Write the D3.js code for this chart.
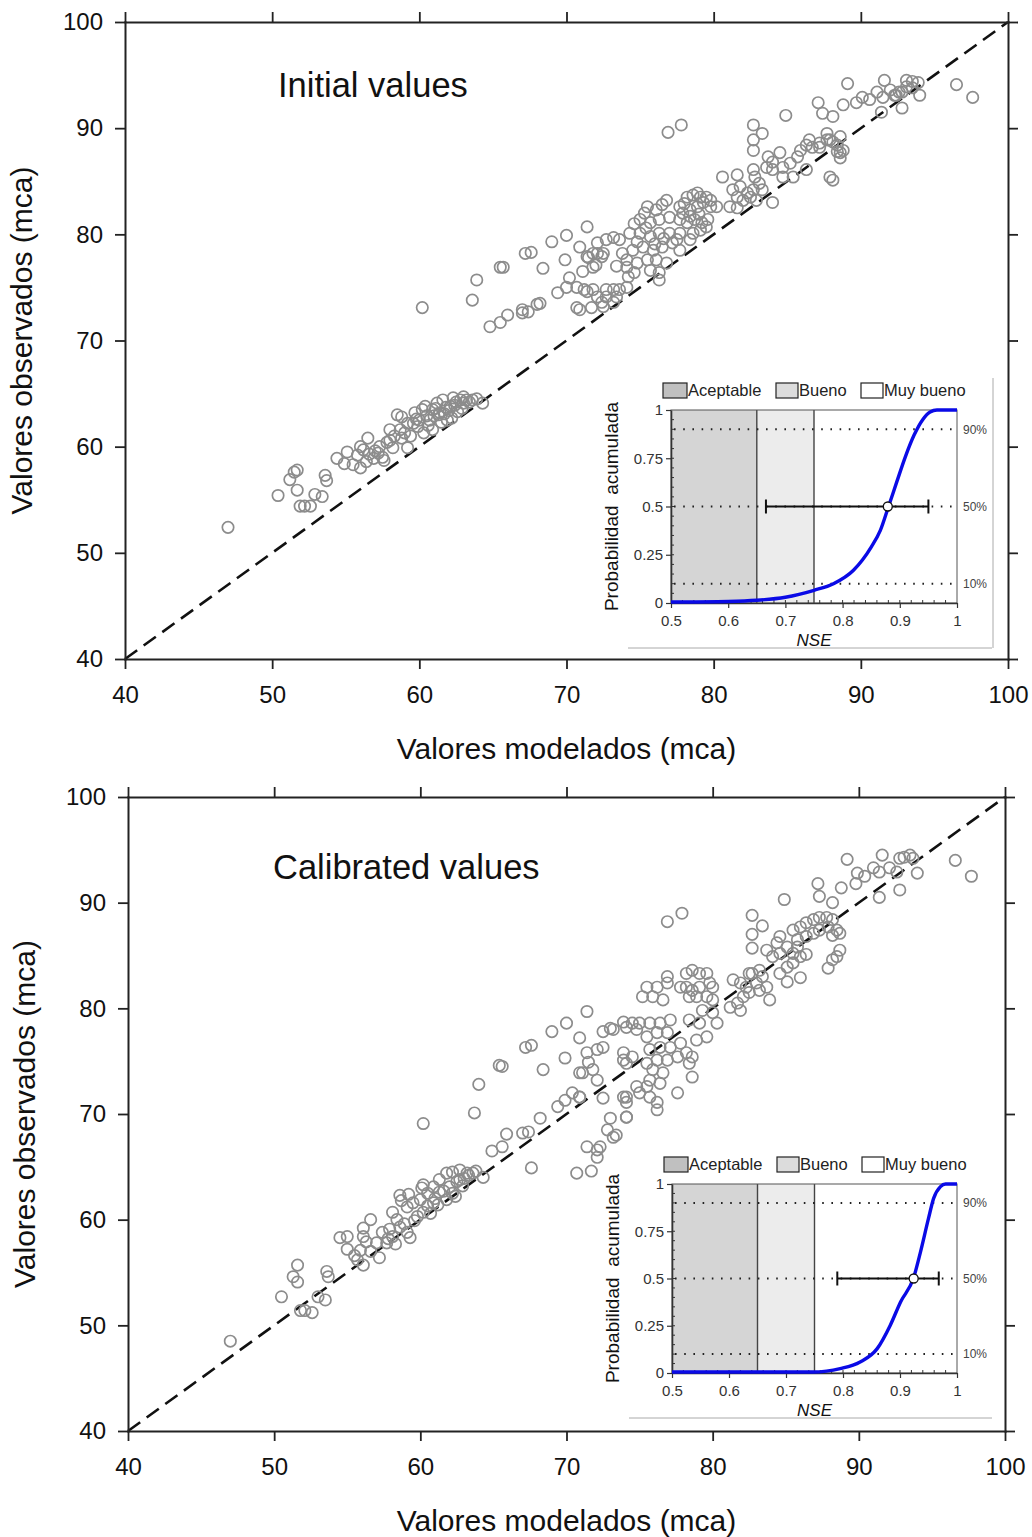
<!DOCTYPE html>
<html>
<head>
<meta charset="utf-8">
<script src="https://cdn.jsdelivr.net/npm/d3@7"></script>
<style>
body { margin: 0; background: #fff; }
</style>
</head>
<body>
<div id="chart"></div>
<script>
// ticks and labels
var mainTicks = [40, 50, 60, 70, 80, 90, 100];
var insetXTicks = [0.5, 0.6, 0.7, 0.8, 0.9, 1];
var insetYTicks = [0, 0.25, 0.5, 0.75, 1];
var quantileLines = [0.1, 0.5, 0.9];
var quantileLabels = ["10%", "50%", "90%"];
var classBreaks = [0.5, 0.65, 0.75, 1];
var classNames = ["Aceptable", "Bueno", "Muy bueno"];
var classFills = ["#d5d5d5", "#ececec", "#ffffff"];
var legendFills = ["#c0c0c0", "#dcdcdc", "#ffffff"];

// scatter: [modelado, observado]
var initialPoints = [
 [47.0,52.4],[50.4,55.4],[51.2,56.9],[51.5,57.6],[51.7,55.9],[51.9,54.4],[52.2,54.4],[52.6,54.4],[52.9,55.5],[53.4,55.3],[53.6,57.3],[53.7,56.8],[51.7,57.8],
 [54.4,58.9],[55.1,59.5],[56.0,60.0],[56.5,60.8],[56.2,59.7],[55.8,59.2],[56.9,58.9],[57.5,59.0],[57.3,60.0],[57.8,60.4],[58.2,59.9],[58.0,60.6],[58.5,63.0],[58.0,61.6],[58.7,61.6],[59.2,62.2],[59.6,62.2],[59.2,59.9],
 [60.0,62.5],[60.2,63.5],[60.7,62.5],[60.9,63.5],[61.2,64.1],[61.6,64.4],[61.4,63.2],[61.9,62.5],[62.1,63.8],[62.3,64.6],[62.8,64.4],[63.0,64.7],[63.2,64.4],[63.6,64.4],[64.3,64.1],
 [55.5,58.3],[56.0,58.0],[56.6,59.3],[57.0,59.6],[57.6,58.7],[58.3,61.0],[58.8,60.8],[59.4,61.0],[59.9,61.9],[60.3,61.3],[60.6,62.0],[61.0,62.9],[61.3,63.0],[61.7,63.1],[62.0,63.4],[62.4,63.9],[62.6,63.3],[63.0,64.1],[63.4,64.2],[60.9,61.6],[61.5,62.3],[62.2,62.7],[59.7,63.2],[60.4,63.8],[63.9,64.5],[62.9,63.6],[58.8,62.8],
 [59.0,61.3],[59.8,62.6],[60.5,62.9],[61.1,63.6],[61.8,63.7],[62.5,64.2],[57.2,59.4],[56.4,58.6],[54.9,58.4],
 [60.2,73.1],[63.6,73.8],[63.9,75.7],[64.8,71.3],[65.5,71.7],[66.0,72.4],[65.5,76.9],[65.7,76.9],[67.0,72.9],[67.4,72.7],[68.2,73.5],[67.2,78.2],[67.6,78.3],[68.4,76.8],[69.0,79.3],[69.9,77.6],[70.0,79.9],[71.4,80.7],[69.4,74.5],[70.0,75.0],[70.7,75.0],[71.4,74.6],[70.2,75.9],[70.7,73.1],[71.7,73.1],[70.9,78.8],[71.4,77.9],[71.1,76.5],[67.0,72.6],[68.0,73.4],
 [72.1,74.1],[72.4,73.6],[71.5,77.8],[72.0,77.1],[72.1,78.2],[72.4,77.9],[72.7,79.5],[73.2,79.7],[73.6,79.5],[72.7,74.1],[73.2,74.8],[73.6,74.8],[74.1,75.0],[74.2,76.0],[74.1,76.9],
 [72.1,79.2],[71.8,78.2],[72.5,78.2],[71.8,76.9],[71.2,74.8],[71.8,74.8],[72.7,74.8],[70.9,72.9],[72.5,73.2],[73.2,73.6],[73.4,74.1],
 [73.8,78.2],[74.5,78.5],[75.2,78.8],[75.9,78.5],[76.5,78.8],[77.2,79.2],[74.1,77.6],[74.8,77.3],[75.5,77.6],[76.1,77.6],[76.8,77.3],[75.7,76.6],[76.3,76.4],[76.3,75.7],[77.7,78.5],[77.5,79.5],[75.5,82.6],[76.1,82.3],[76.8,83.2],[75.0,81.4],[75.7,81.1],[76.3,81.4],[77.0,81.6],[74.3,80.1],[75.0,80.1],[75.7,79.8],[76.3,80.1],[77.0,80.1],[77.7,80.1],
 [74.8,79.3],[75.4,80.6],[76.0,79.1],[76.6,79.6],[74.6,81.0],[75.3,82.0],[76.5,82.8],[73.4,77.0],[74.6,76.4],
 [77.7,82.6],[78.2,83.5],[78.6,83.7],[79.1,83.5],[79.5,83.5],[77.9,82.0],[78.4,82.3],[78.9,82.6],[79.3,83.0],[79.8,82.6],[80.2,82.6],[77.7,81.4],[78.2,81.1],[78.7,81.4],[79.2,81.1],[79.6,81.4],[78.6,80.1],[79.1,80.4],[79.5,80.7],[78.4,79.5],
 [78.0,82.9],[78.9,83.9],[79.8,83.2],[78.4,81.7],[79.0,81.9],
 [81.3,84.2],[81.8,84.5],[82.3,83.9],[82.7,84.2],[83.1,84.8],[83.3,84.2],[81.6,83.5],[82.0,83.2],[82.5,83.5],[82.9,83.2],[81.1,82.6],[81.6,82.5],
 [80.6,85.4],[81.6,85.6],[82.7,86.1],[82.8,85.4],[84.0,83.0],
 [83.7,87.3],[84.0,86.8],[84.5,87.7],[84.7,86.3],[85.2,86.7],[85.7,87.3],[85.9,87.9],[86.3,88.4],[86.7,88.2],[87.2,88.6],[87.7,88.9],[88.1,88.7],[88.4,88.4],[87.7,89.5],[88.4,87.8],[88.8,87.9],[88.6,87.2],[86.3,86.1],[85.4,85.4],[84.7,85.4],[87.9,85.4],[88.1,85.1],[83.6,86.3],[84.0,86.1],
 [86.5,88.9],[87.2,88.2],[87.9,88.9],[88.6,89.2],[88.6,87.7],
 [76.9,89.6],[77.8,90.3],[82.7,90.3],[83.3,89.5],[82.7,88.9],[82.7,87.9],[84.9,91.2],[87.1,92.4],[87.4,91.4],[88.1,91.1],[88.8,92.2],[89.1,94.2],
 [89.7,92.4],[90.1,92.9],[90.6,92.7],[91.1,93.4],[91.5,92.9],[92.0,93.6],[92.4,93.1],[92.8,93.4],[93.1,93.9],[93.5,93.8],[94.0,93.1],[92.8,91.9],[96.5,94.1],[97.6,92.9],
 [91.6,94.5],[93.1,94.5],[93.5,94.4],[93.9,94.3],[91.4,91.5],[92.6,93.4],[92.3,93.1]
];

var calibratedPoints = [
 [47.0,48.5],[50.5,52.7],[51.6,55.7],[51.3,54.6],[51.6,54.1],[51.8,51.4],[52.1,51.4],[52.6,51.2],[53.0,52.7],[53.5,52.4],[53.6,55.1],[53.7,54.6],
 [54.5,58.3],[55.0,58.4],[56.1,59.2],[56.6,60.0],[56.1,58.4],[55.9,57.1],[55.7,56.2],[56.1,55.7],[56.3,57.9],
 [57.2,56.4],[57.4,58.8],[57.9,59.1],[58.1,58.4],[58.6,59.3],[57.7,57.8],[59.1,58.8],[59.3,58.3],[58.1,60.7],[58.4,60.0],[58.6,62.3],[59.1,61.2],[59.5,61.6],[60.0,61.9],[60.5,62.5],[60.2,63.3],[60.9,63.1],[61.3,63.8],[61.8,64.4],[62.2,64.5],[62.7,64.7],[63.2,64.4],[63.6,64.4],[64.3,64.0],[60.9,61.6],[61.8,61.9],[62.2,62.5],[60.7,60.6],[59.8,60.3],[61.3,62.6],[62.7,63.8],
 [55.0,57.2],[55.5,56.6],[56.6,57.0],[57.0,57.8],[57.8,58.2],[58.3,57.7],[58.9,59.6],[59.6,59.9],[60.2,60.7],[60.5,61.3],[61.0,62.0],[61.6,62.7],[62.0,63.1],[62.5,63.6],[63.0,63.9],[63.3,64.2],[61.2,61.4],[62.4,62.2],[59.2,62.4],[60.1,63.0],[63.8,64.6],[62.9,63.2],[58.7,61.8],
 [60.2,69.1],[63.7,70.1],[64.0,72.8],[64.9,66.5],[65.6,66.9],[65.9,68.1],[67.6,64.9],[65.4,74.6],[65.6,74.5],[67.2,76.3],[67.6,76.5],[68.4,74.2],[69.0,77.8],[70.0,78.6],[71.4,79.7],[67.0,68.2],[67.4,68.3],[68.2,69.6],[69.4,70.7],[69.9,71.3],[70.4,72.0],[70.9,71.6],[69.9,75.3],[70.9,73.9],[71.4,75.8],[71.5,74.9],[70.7,64.4],[71.7,64.6],[71.4,66.9],[72.1,66.6],
 [72.5,77.8],[73.0,78.1],[73.2,78.0],[73.9,78.7],[70.9,77.2],[72.1,76.1],[72.5,76.3],[71.1,73.9],[71.8,74.2],[72.1,73.2],[73.9,75.1],[74.1,74.8],[70.9,71.6],[72.5,71.5],[73.9,71.6],[74.1,71.1],[73.0,69.6],[74.1,69.7],[72.8,68.5],[73.2,67.8],[73.4,68.0],[72.3,66.9],[72.1,65.9],
 [75.5,82.0],[76.2,82.0],[76.9,83.0],[76.9,82.4],[75.2,81.1],[75.9,81.1],[76.6,80.8],[74.5,78.6],[75.0,78.6],[75.7,78.6],[76.4,78.6],[77.1,78.9],[74.1,78.2],[74.8,78.0],[75.5,77.3],[76.2,77.7],[76.9,77.7],[73.9,75.8],[74.5,75.4],[75.7,76.1],[76.4,76.3],[77.1,76.3],[77.8,76.7],[75.5,74.8],[76.2,75.1],[76.9,75.1],[77.6,75.4],[75.9,74.2],[76.6,73.9],[75.7,73.2],[76.4,72.9],[74.8,72.6],[75.5,72.6],[75.0,72.0],[75.7,71.6],[76.2,71.1],[76.2,70.4],[74.1,71.6],[74.1,69.7],[78.2,75.8],[78.4,74.8],[78.6,75.4],
 [78.6,73.5],[77.6,72.0],
 [78.2,83.3],[78.6,83.6],[79.1,83.3],[79.6,83.3],[77.8,82.0],[78.2,82.0],[78.6,81.7],[79.1,82.0],[79.8,82.4],[80.0,82.0],[78.4,81.1],[78.9,81.1],[79.6,81.1],[80.0,80.8],[79.3,79.8],[80.0,79.6],[80.3,78.6],[79.1,78.6],[79.6,77.3],[78.9,77.0],[78.4,78.9],
 [81.4,82.7],[81.9,82.4],[82.3,82.0],[82.7,83.3],[83.2,83.6],[83.4,83.0],[83.0,82.4],[82.5,81.5],[82.1,81.1],[81.7,80.5],[81.2,80.1],[81.9,79.8],[83.9,80.8],[83.2,81.7],[83.7,82.0],[82.5,83.3],
 [83.7,85.5],[84.4,86.2],[84.6,86.8],[85.1,85.8],[85.5,85.2],[85.5,84.3],[85.1,83.9],[86.0,84.9],[86.4,85.1],[85.8,85.8],[84.6,85.2],[84.1,84.9],[85.1,82.5],[86.0,82.9],[84.6,83.3],
 [85.5,87.4],[86.0,87.7],[86.4,88.1],[86.9,88.4],[87.3,88.6],[87.8,88.6],[88.2,88.4],[88.5,87.4],[87.9,87.7],[87.3,87.4],[86.9,87.1],[86.4,86.8],[85.8,86.5],[88.2,86.9],[88.7,87.1],
 [88.7,85.5],[88.5,84.9],[88.2,84.6],[87.9,83.8],
 [76.9,88.2],[77.9,89.0],[82.7,88.8],[83.4,87.8],[82.7,87.0],[82.7,85.7],[84.9,90.3],[87.2,91.8],[87.3,90.6],[88.2,90.0],[89.2,94.1],[88.8,91.4],
 [89.9,92.8],[89.8,91.8],[90.4,92.5],[91.0,93.3],[91.4,92.9],[91.6,94.5],[92.1,93.3],[92.6,92.9],[92.8,94.2],[93.1,94.3],[93.5,94.5],[93.7,94.2],[94.0,92.8],[92.8,91.2],[91.4,90.5],[96.6,94.0],[97.7,92.5]
];

// cumulative probability of NSE
var initialCdfNse  = [0.5, 0.6, 0.65, 0.7, 0.75, 0.784, 0.819, 0.85, 0.866, 0.88, 0.895, 0.91, 0.925, 0.94, 0.953, 0.965, 1.0];
var initialCdfProb = [0.005, 0.008, 0.014, 0.03, 0.066, 0.1, 0.17, 0.29, 0.376, 0.497, 0.63, 0.76, 0.87, 0.95, 0.99, 1, 1];
var initialRange = [0.666, 0.879, 0.95]; // 10%, 50%, 90%

var calibratedCdfNse  = [0.5, 0.6, 0.7, 0.748, 0.795, 0.83, 0.86, 0.883, 0.901, 0.924, 0.936, 0.95, 0.959, 0.971, 0.98, 1.0];
var calibratedCdfProb = [0.005, 0.005, 0.005, 0.005, 0.023, 0.058, 0.129, 0.253, 0.376, 0.505, 0.641, 0.818, 0.924, 0.986, 1, 1];
var calibratedRange = [0.79, 0.924, 0.968];

var svg = d3.select("#chart").append("svg")
    .attr("width", 1032).attr("height", 1537)
    .style("font-family", "'Liberation Sans', Arial, sans-serif");

var panels = [
    { title: "Initial values", titleSize: 34.5, titleX: 278, titleY: 97,
      points: initialPoints, cdfX: initialCdfNse, cdfY: initialCdfProb, range: initialRange,
      left: 125, right: 1008, top: 22, bottom: 659,
      inset: { left: 671, right: 957, top: 410, bottom: 603, frameRight: true } },
    { title: "Calibrated values", titleSize: 34.5, titleX: 273, titleY: 879,
      points: calibratedPoints, cdfX: calibratedCdfNse, cdfY: calibratedCdfProb, range: calibratedRange,
      left: 128, right: 1005, top: 797, bottom: 1431,
      inset: { left: 672, right: 957, top: 1184, bottom: 1373, frameRight: false } }
];

panels.forEach(function (p) { dibujarPanel(p); });

function dibujarPanel(p) {
    var x = d3.scaleLinear().domain([40, 100]).range([p.left, p.right]);
    var y = d3.scaleLinear().domain([40, 100]).range([p.bottom, p.top]);
    var g = svg.append("g");

    // 1:1 line
    g.append("line")
        .attr("x1", x(40)).attr("y1", y(40)).attr("x2", x(100)).attr("y2", y(100))
        .attr("stroke", "#111").attr("stroke-width", 2.6).attr("stroke-dasharray", "15,8");

    g.selectAll(".pt")
        .data(p.points)
        .enter().append("circle")
        .attr("class", "pt")
        .attr("cx", function (d) { return x(d[0]); })
        .attr("cy", function (d) { return y(d[1]); })
        .attr("r", 5.7)
        .attr("fill", "none")
        .attr("stroke", "#8c8c8c")
        .attr("stroke-width", 1.7);

    // frame with outward ticks on all sides
    var ax = [
        { a: d3.axisBottom(x).tickPadding(17), t: "translate(0," + p.bottom + ")", lab: true },
        { a: d3.axisLeft(y).tickPadding(12), t: "translate(" + p.left + ",0)", lab: true },
        { a: d3.axisTop(x), t: "translate(0," + p.top + ")", lab: false },
        { a: d3.axisRight(y), t: "translate(" + p.right + ",0)", lab: false }
    ];
    ax.forEach(function (o) {
        o.a.tickValues(mainTicks).tickSize(10).tickSizeOuter(0);
        if (!o.lab) o.a.tickFormat("");
        var ga = g.append("g").attr("transform", o.t).call(o.a);
        ga.select(".domain").attr("stroke", "#222").attr("stroke-width", 2).attr("stroke-linecap", "square");
        ga.selectAll(".tick line").attr("stroke", "#222").attr("stroke-width", 1.8);
        ga.selectAll(".tick text").attr("fill", "#111")
            .style("font-size", "24px").style("font-family", "'Liberation Sans', Arial, sans-serif");
    });

    g.append("text")
        .attr("x", (p.left + p.right) / 2).attr("y", p.bottom + 100)
        .attr("text-anchor", "middle").style("font-size", "30px").attr("fill", "#111")
        .text("Valores modelados (mca)");
    g.append("text")
        .attr("transform", "translate(" + (p.left - 93) + "," + ((p.top + p.bottom) / 2) + ") rotate(-90)")
        .attr("text-anchor", "middle").style("font-size", "30px").attr("fill", "#111")
        .text("Valores observados (mca)");
    g.append("text")
        .attr("x", p.titleX).attr("y", p.titleY)
        .style("font-size", p.titleSize + "px").attr("fill", "#111")
        .text(p.title);

    dibujarInset(g, p);
}

function dibujarInset(g, p) {
    var b = p.inset;
    var x = d3.scaleLinear().domain([0.5, 1]).range([b.left, b.right]);
    var y = d3.scaleLinear().domain([0, 1]).range([b.bottom, b.top]);
    var gi = g.append("g");

    gi.append("rect").attr("x", b.left - 45).attr("y", b.top - 32)
        .attr("width", b.right - b.left + 80).attr("height", b.bottom - b.top + 77).attr("fill", "#fff");

    // class bands
    gi.selectAll(".band")
        .data(classNames)
        .enter().append("rect")
        .attr("x", function (d, i) { return x(classBreaks[i]); })
        .attr("y", y(1))
        .attr("width", function (d, i) { return x(classBreaks[i + 1]) - x(classBreaks[i]); })
        .attr("height", y(0) - y(1))
        .attr("fill", function (d, i) { return classFills[i]; });
    gi.selectAll(".brk")
        .data(classBreaks.slice(1, 3))
        .enter().append("line")
        .attr("x1", function (d) { return x(d); }).attr("x2", function (d) { return x(d); })
        .attr("y1", y(1)).attr("y2", y(0))
        .attr("stroke", "#444").attr("stroke-width", 1.4);

    gi.append("rect").attr("x", b.left).attr("y", b.top)
        .attr("width", b.right - b.left).attr("height", b.bottom - b.top)
        .attr("fill", "none").attr("stroke", "#555").attr("stroke-width", 1);

    // dotted quantile lines
    gi.selectAll(".q")
        .data(quantileLines)
        .enter().append("line")
        .attr("x1", x(0.5) + 3).attr("x2", x(1) - 2)
        .attr("y1", function (d) { return y(d); }).attr("y2", function (d) { return y(d); })
        .attr("stroke", "#222").attr("stroke-width", 2).attr("stroke-dasharray", "1.6,7.6");
    gi.selectAll(".ql")
        .data(quantileLines)
        .enter().append("text")
        .attr("x", b.right + 6).attr("y", function (d) { return y(d); }).attr("dy", "0.35em")
        .style("font-size", "12px").attr("fill", "#444")
        .text(function (d, i) { return quantileLabels[i]; });

    // axes
    var fmt = function (d) { return String(d); };
    var axY = gi.append("g").attr("transform", "translate(" + b.left + ",0)")
        .call(d3.axisLeft(y).tickValues(insetYTicks).tickSize(5).tickSizeOuter(0).tickPadding(3).tickFormat(fmt));
    var axX = gi.append("g").attr("transform", "translate(0," + b.bottom + ")")
        .call(d3.axisBottom(x).tickValues(insetXTicks).tickSize(5).tickSizeOuter(0).tickPadding(7).tickFormat(fmt));
    [axX, axY].forEach(function (a) {
        a.select(".domain").attr("stroke", "#333").attr("stroke-width", 1.6);
        a.selectAll(".tick line").attr("stroke", "#333").attr("stroke-width", 1.2);
        a.selectAll(".tick text").attr("fill", "#333")
            .style("font-size", "15px").style("font-family", "'Liberation Sans', Arial, sans-serif");
    });
    // minor ticks
    gi.selectAll(".my")
        .data(d3.range(0.05, 1, 0.05))
        .enter().append("line")
        .attr("x1", b.left).attr("x2", b.left + 3)
        .attr("y1", function (d) { return y(d); }).attr("y2", function (d) { return y(d); })
        .attr("stroke", "#333").attr("stroke-width", 1);
    gi.selectAll(".mx")
        .data(d3.range(0.52, 1, 0.02))
        .enter().append("line")
        .attr("y1", b.bottom).attr("y2", b.bottom - 3)
        .attr("x1", function (d) { return x(d); }).attr("x2", function (d) { return x(d); })
        .attr("stroke", "#333").attr("stroke-width", 1);

    // CDF
    var linea = d3.line()
        .x(function (d) { return x(d[0]); })
        .y(function (d) { return y(d[1]); })
        .curve(d3.curveMonotoneX);
    gi.append("path")
        .datum(d3.zip(p.cdfX, p.cdfY))
        .attr("d", linea)
        .attr("fill", "none").attr("stroke", "#0a0ae6").attr("stroke-width", 3.4);

    // 10-90% interval with median
    gi.append("line")
        .attr("x1", x(p.range[0])).attr("x2", x(p.range[2]))
        .attr("y1", y(0.5)).attr("y2", y(0.5))
        .attr("stroke", "#111").attr("stroke-width", 2);
    gi.selectAll(".cap")
        .data([p.range[0], p.range[2]])
        .enter().append("line")
        .attr("x1", function (d) { return x(d); }).attr("x2", function (d) { return x(d); })
        .attr("y1", y(0.5) - 7).attr("y2", y(0.5) + 7)
        .attr("stroke", "#111").attr("stroke-width", 2);
    gi.append("circle")
        .attr("cx", x(p.range[1])).attr("cy", y(0.5)).attr("r", 4.5)
        .attr("fill", "#fff").attr("stroke", "#111").attr("stroke-width", 1.3);

    // legend
    var offs = [-8, 105, 190];
    var lg = gi.selectAll(".lg")
        .data(classNames)
        .enter().append("g")
        .attr("transform", function (d, i) { return "translate(" + (b.left + offs[i]) + "," + (b.top - 27) + ")"; });
    lg.append("rect").attr("width", function (d, i) { return i === 0 ? 24 : 22; }).attr("height", 15)
        .attr("fill", function (d, i) { return legendFills[i]; })
        .attr("stroke", "#222").attr("stroke-width", 1.2);
    lg.append("text")
        .attr("x", function (d, i) { return i === 0 ? 25 : 23; }).attr("y", 13)
        .style("font-size", "16.5px").attr("fill", "#222")
        .text(function (d) { return d; });

    gi.append("text")
        .attr("transform", "translate(" + (b.left - 53) + "," + ((b.top + b.bottom) / 2) + ") rotate(-90)")
        .attr("text-anchor", "middle").style("font-size", "19px").attr("fill", "#111")
        .attr("xml:space", "preserve")
        .text("Probabilidad  acumulada");
    gi.append("text")
        .attr("x", (b.left + b.right) / 2).attr("y", b.bottom + 43)
        .attr("text-anchor", "middle").style("font-size", "17px").style("font-style", "italic")
        .attr("fill", "#111").text("NSE");

    // thin grey border of the inset box
    gi.append("line")
        .attr("x1", b.left - 43).attr("x2", b.right + 35)
        .attr("y1", b.bottom + 45).attr("y2", b.bottom + 45)
        .attr("stroke", "#aaa").attr("stroke-width", 1);
    if (b.frameRight) {
        gi.append("line")
            .attr("x1", b.right + 36).attr("x2", b.right + 36)
            .attr("y1", b.top - 32).attr("y2", b.bottom + 45)
            .attr("stroke", "#aaa").attr("stroke-width", 1);
    }
}
</script>
</body>
</html>
